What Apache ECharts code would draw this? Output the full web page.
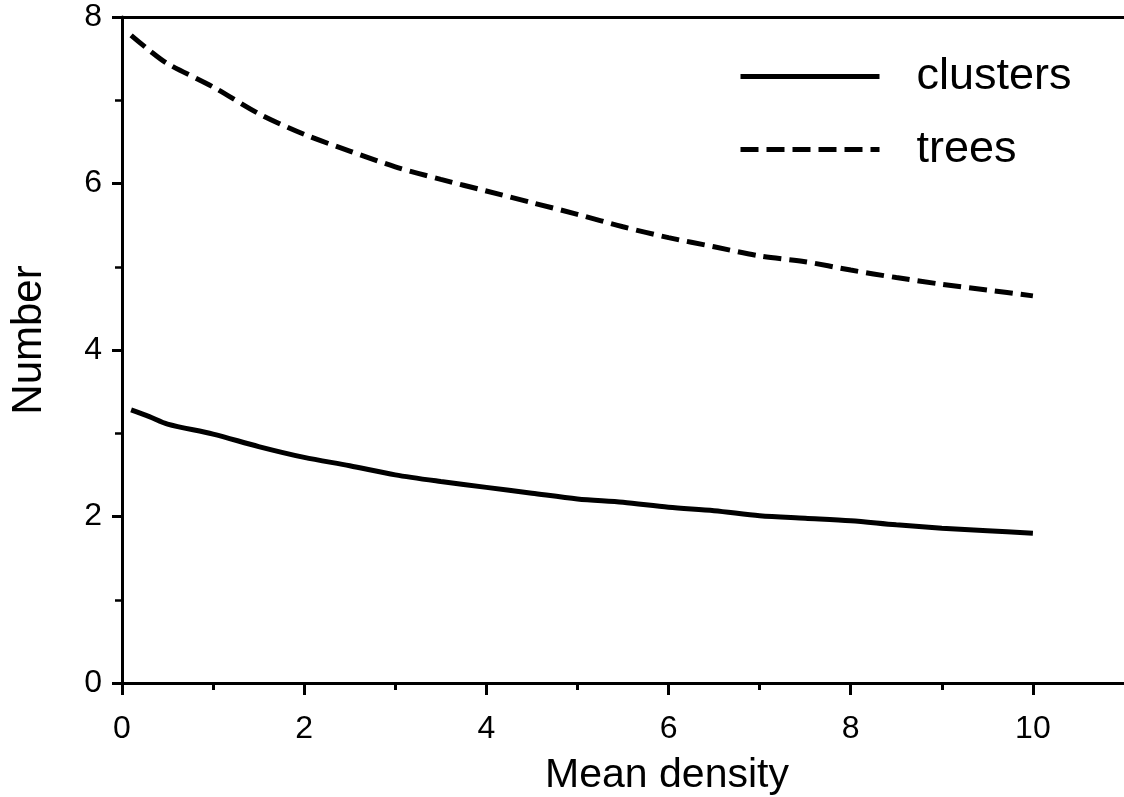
<!DOCTYPE html>
<html>
<head>
<meta charset="utf-8">
<script src="https://cdn.jsdelivr.net/npm/echarts@6/dist/echarts.min.js"></script>
<style>
html,body{margin:0;padding:0;background:#fff;}
#chart{width:1124px;height:797px;}
</style>
</head>
<body>
<div id="chart"></div>
<script>
var densities = [0.1, 0.3, 0.5, 1, 1.5, 2, 2.5, 3, 3.5, 4, 4.5, 5, 5.5, 6, 6.5, 7, 7.5, 8, 8.5, 9, 9.5, 10];
var clusters = [3.28, 3.2, 3.11, 2.99, 2.84, 2.71, 2.61, 2.5, 2.42, 2.35, 2.28, 2.21, 2.17, 2.11, 2.07, 2.01, 1.98, 1.95, 1.9, 1.86, 1.83, 1.8];
var trees = [7.78, 7.6, 7.44, 7.16, 6.84, 6.59, 6.39, 6.2, 6.05, 5.91, 5.77, 5.63, 5.48, 5.35, 5.24, 5.13, 5.06, 4.96, 4.87, 4.79, 4.72, 4.65];
var xMajorTicks = [0, 2, 4, 6, 8, 10];
var xMinorTicks = [1, 3, 5, 7, 9];
var seriesNames = ['clusters', 'trees'];

function pairs(xs, ys) { return xs.map(function (x, i) { return [x, ys[i]]; }); }

var FONT = '"Liberation Sans", Arial, Helvetica, sans-serif';
var chart = echarts.init(document.getElementById('chart'), null, {renderer: 'canvas'});
var axisLine = {show: true, lineStyle: {color: '#000', width: 3}};
chart.setOption({
  backgroundColor: '#fff',
  animation: false,
  grid: {left: 122, right: 0, top: 17, bottom: 114, containLabel: false, outerBoundsMode: 'none'},
  legend: {
    data: seriesNames,
    orient: 'vertical',
    left: 733,
    top: 49,
    itemWidth: 139,
    itemHeight: 14,
    itemGap: 28,
    textStyle: {fontFamily: FONT, fontSize: 45, color: '#000', padding: [0, 0, 0, 32]},
    lineStyle: {width: 5, type: 'inherit'},
    itemStyle: {opacity: 0}
  },
  xAxis: [
    {
      type: 'value', min: 0, max: 11, interval: 2, position: 'bottom',
      axisLine: axisLine,
      axisTick: {show: true, inside: false, length: 12, lineStyle: {color: '#000', width: 3}, customValues: xMajorTicks},
      axisLabel: {show: true, margin: 30, fontFamily: FONT, fontSize: 32, color: '#000', customValues: xMajorTicks},
      splitLine: {show: false},
      name: 'Mean density', nameLocation: 'middle', nameGap: 72,
      nameTextStyle: {fontFamily: FONT, fontSize: 41, color: '#000', padding: [0, 0, 0, 88]}
    },
    {
      type: 'value', min: 0, max: 11, position: 'bottom',
      axisLine: {show: false},
      axisTick: {show: true, length: 7, lineStyle: {color: '#000', width: 3}, customValues: xMinorTicks},
      axisLabel: {show: false},
      splitLine: {show: false}
    },
    {
      type: 'value', min: 0, max: 11, position: 'top',
      axisLine: axisLine,
      axisTick: {show: false}, axisLabel: {show: false}, splitLine: {show: false}
    }
  ],
  yAxis: {
    type: 'value', min: 0, max: 8, interval: 2,
    axisLine: axisLine,
    axisTick: {show: true, length: 10, lineStyle: {color: '#000', width: 3}},
    minorTick: {show: true, splitNumber: 2, length: 7, lineStyle: {color: '#000', width: 2.5}},
    axisLabel: {margin: 20, fontFamily: FONT, fontSize: 32, color: '#000'},
    splitLine: {show: false},
    name: 'Number', nameLocation: 'middle', nameGap: 72,
    nameTextStyle: {fontFamily: FONT, fontSize: 42, color: '#000', padding: [0, 0, 0, 20]}
  },
  series: [
    {
      name: seriesNames[0], type: 'line', xAxisIndex: 0, data: pairs(densities, clusters),
      symbol: 'none', smooth: 0.3,
      lineStyle: {color: '#000', width: 5, type: 'solid'},
      itemStyle: {color: '#000'}
    },
    {
      name: seriesNames[1], type: 'line', xAxisIndex: 0, data: pairs(densities, trees),
      symbol: 'none', smooth: 0.3,
      lineStyle: {color: '#000', width: 5, type: [18, 8]},
      itemStyle: {color: '#000'}
    }
  ]
});
</script>
</body>
</html>
